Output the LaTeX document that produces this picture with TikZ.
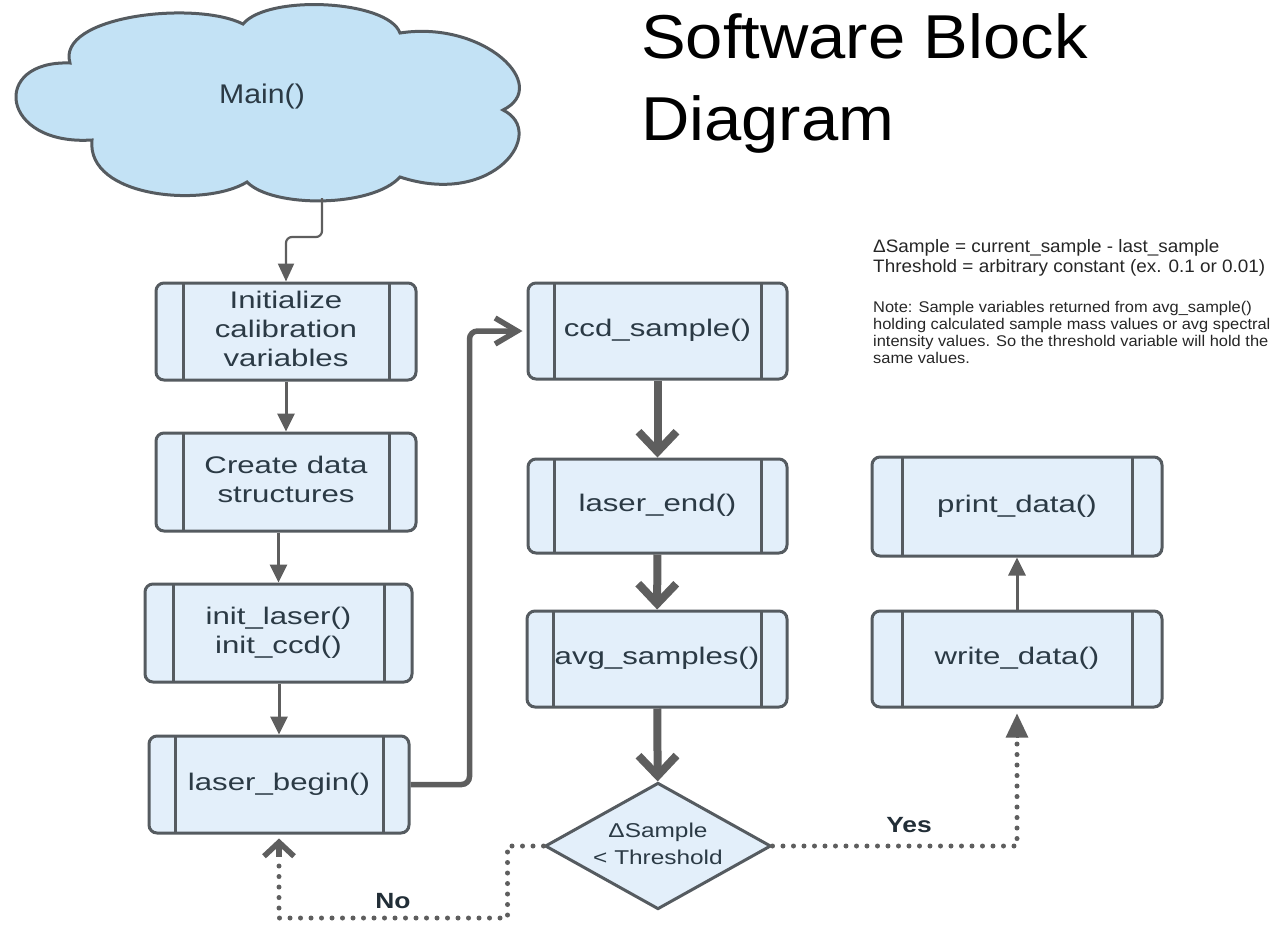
\documentclass[tikz,border=0pt]{standalone}
\usepackage{fontspec}
\setmainfont{Liberation Sans}
\usepackage{graphicx}
\usetikzlibrary{arrows.meta,shapes.geometric}

\definecolor{boxfill}{HTML}{E3EFFA}
\definecolor{cloudfill}{HTML}{C3E2F5}
\definecolor{edgec}{HTML}{555B60}
\definecolor{linkc}{HTML}{5E5E5E}
\definecolor{ink}{HTML}{2B3A45}

% horizontally widened label text
\newcommand{\wlabel}[2][1.3]{\scalebox{#1}[1]{\begin{tabular}{@{}c@{}}#2\end{tabular}}}

\begin{document}
\begin{tikzpicture}[x=1pt,y=-1pt,
  proc/.style n args={3}{draw=edgec, line width=3pt, fill=boxfill,
    rounded corners=8pt, minimum width=#1, minimum height=#2, inner sep=0pt,
    text=ink, font=\fontsize{24}{29}\selectfont,
    path picture={
      \draw[edgec,line width=3pt]
        ([xshift=#3]path picture bounding box.north west) --
        ([xshift=#3]path picture bounding box.south west);
      \draw[edgec,line width=3pt]
        ([xshift=-#3]path picture bounding box.north east) --
        ([xshift=-#3]path picture bounding box.south east);
    }},
  decision/.style={diamond, draw=edgec, line width=3pt, fill=boxfill,
    minimum width=225pt, minimum height=126pt, aspect=1.786, inner sep=0pt,
    text=ink, font=\fontsize{20}{27}\selectfont},
  thinlink/.style={draw=linkc, line width=3pt, -{Triangle[length=18pt,width=17pt]}},
  hairlink/.style={draw=linkc, line width=2.2pt, -{Triangle[length=18pt,width=16pt]}},
  thicklink/.style={draw=linkc, line width=8pt, -{Straight Barb[length=20pt,width=38pt]}},
  looplink/.style={draw=linkc, line width=5.5pt, rounded corners=8pt,
    -{Straight Barb[length=22pt,width=26pt]}},
  dotlink/.style={draw=linkc, line width=5pt, line cap=round,
    dash pattern=on 0pt off 10.5pt},
  branch/.style={text=ink!80!black, font=\bfseries\fontsize{22}{26}\selectfont},
]
\useasboundingbox (0,0) rectangle (1285,927);

% ---- start cloud ----
\draw[draw=edgec, line width=3pt, fill=cloudfill]
  (70,63) .. controls (56,16) and (195,0) .. (243,24)
  .. controls (268,-6) and (388,0) .. (400,33)
  .. controls (484,20) and (552,86) .. (503,110)
  .. controls (548,132) and (494,208) .. (400,177)
  .. controls (372,208) and (272,208) .. (247,182)
  .. controls (205,208) and (86,198) .. (92,140)
  .. controls (0,146) and (-10,60) .. (70,63) -- cycle;
\node[text=ink, font=\fontsize{27}{30}\selectfont] (main) at (262,97) {\wlabel[1.12]{Main()}};
\coordinate (cloudfoot) at (322,198);

% ---- title and notes ----
\node[anchor=base west, inner sep=0pt, font=\fontsize{62}{70}\selectfont] (title1) at (641,58) {\scalebox{1.08}[1]{Software Block}};
\node[anchor=base west, inner sep=0pt, font=\fontsize{62}{70}\selectfont] (title2) at (641,140) {\scalebox{1.08}[1]{Diagram}};

\node[anchor=north west, inner sep=0pt, font=\fontsize{18}{20}\selectfont, text=black!85] (defs) at (873,238)
  {\scalebox{1.05}[1]{\begin{tabular}{@{}l@{}}ΔSample = current\_sample - last\_sample\\
   Threshold = arbitrary constant (ex. 0.1 or 0.01)\end{tabular}}};
\node[anchor=north west, inner sep=0pt, font=\fontsize{15.5}{16.8}\selectfont, text=black!85] (note) at (873,301)
  {\scalebox{1.06}[1]{\begin{tabular}{@{}l@{}}Note: Sample variables returned from avg\_sample()\\
   holding calculated sample mass values or avg spectral\\
   intensity values. So the threshold variable will hold the\\
   same values.\end{tabular}}};

% ---- process boxes ----
\node[proc={260pt}{97pt}{27pt}] (init)   at (286,331.5) {\wlabel{Initialize\\calibration\\variables}};
\node[proc={260pt}{98pt}{27pt}] (create) at (286,482)   {\wlabel{Create data\\structures}};
\node[proc={267pt}{98pt}{28pt}] (initl)  at (278.5,633) {\wlabel{init\_laser()\\init\_ccd()}};
\node[proc={260pt}{97pt}{26pt}] (begin)  at (279,784.5) {\wlabel{laser\_begin()}};
\node[proc={259pt}{96pt}{26pt}] (ccd)    at (657.5,331) {\wlabel{ccd\_sample()}};
\node[proc={259pt}{94pt}{26pt}] (lend)   at (657.5,506) {\wlabel{laser\_end()}};
\node[proc={260pt}{96pt}{26pt}] (avg)    at (657,659)   {\wlabel{avg\_samples()}};
\node[proc={290pt}{99pt}{30pt}] (print)  at (1017,506.5) {\wlabel{print\_data()}};
\node[proc={290pt}{96pt}{30pt}] (write)  at (1017,659)   {\wlabel{write\_data()}};
\node[decision] (dec) at (658,846) {\wlabel[1.22]{ΔSample\\< Threshold}};

% ---- connectors ----
\draw[hairlink, rounded corners=6pt] (cloudfoot) -- ++(0,39) -| (init.north);
\draw[thinlink] (init) -- (create);
\draw[thinlink] (initl.north |- create.south) -- (initl.north);
\draw[thinlink] (begin.north |- initl.south) -- (begin.north);
\draw[looplink] (begin.east) -- ++(59,0) |- ([xshift=-4pt]ccd.west);
\draw[thicklink] (ccd) -- (lend);
\draw[thicklink] (lend) -- (avg);
\draw[thicklink] (avg) -- (dec);
\draw[thinlink] (write) -- (print);

% decision branches
\draw[dotlink] (dec.east) -| ([yshift=-31pt]write.south);
\draw[linkc, -{Triangle[length=24pt,width=22pt]}, line width=3pt] ([yshift=-29pt]write.south) -- ([yshift=-5pt]write.south);
\draw[dotlink] (dec.west) -- ++(-36,0) -- ++(0,72) -| ([yshift=-24pt]begin.south);
\draw[linkc, line width=5.5pt, -{Straight Barb[length=14pt,width=30pt]}] ([yshift=-22pt]begin.south) -- ([yshift=-4pt]begin.south);

\node[branch] (yes) at (909,825) {\scalebox{1.2}[1]{Yes}};
\node[branch] (no)  at (393,901) {\scalebox{1.2}[1]{No}};
\end{tikzpicture}
\end{document}
